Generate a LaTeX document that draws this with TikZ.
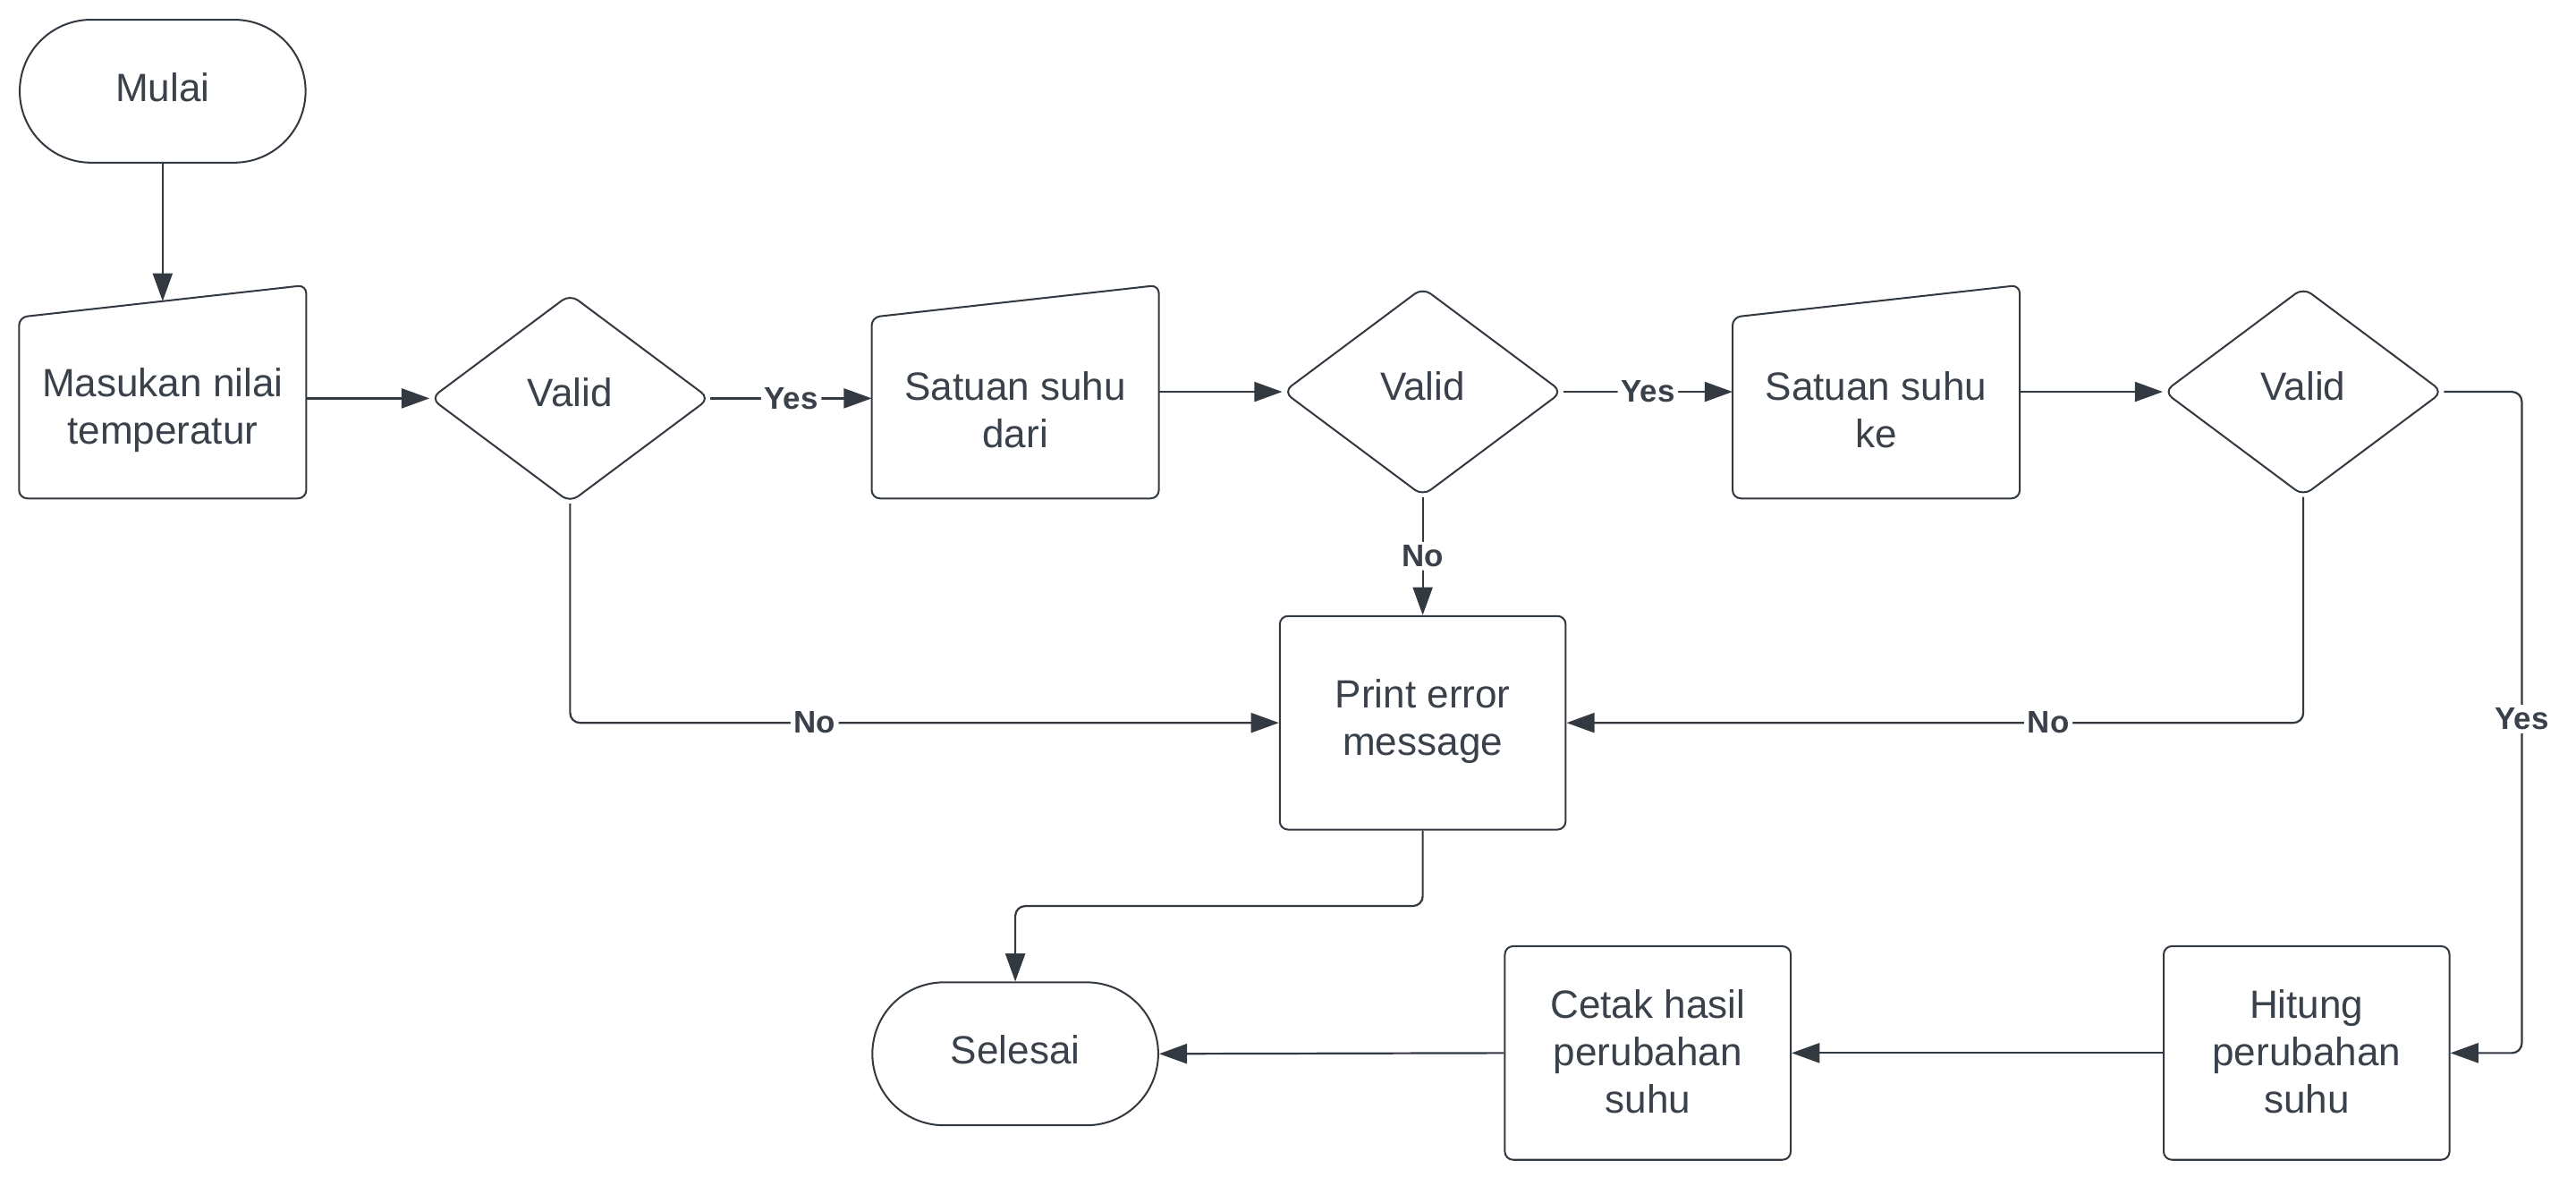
\documentclass[tikz,border=0pt]{standalone}
\usepackage{fontspec}
\setmainfont{Liberation Sans}
\usetikzlibrary{shapes.geometric,arrows.meta,calc}
\definecolor{ink}{RGB}{51,57,65}
\definecolor{txt}{RGB}{58,65,74}
\begin{document}
\begin{tikzpicture}[x=0.5pt,y=-0.5pt,
 every node/.style={font=\fontsize{12pt}{14.5pt}\selectfont, text=txt, align=center},
 term/.style={draw=ink, line width=0.55pt, rectangle, rounded corners=21.75pt, minimum width=87pt, minimum height=43.5pt, inner sep=0pt},
 proc/.style={draw=ink, line width=0.55pt, rectangle, rounded corners=2.5pt, minimum width=87pt, minimum height=65pt, inner sep=0pt},
 decision/.style={draw=ink, line width=0.55pt, diamond, rounded corners=3pt, minimum width=85pt, minimum height=63.5pt, inner sep=0pt},
 inbox/.style={rectangle, minimum width=87pt, minimum height=64.5pt, inner sep=0pt},
 inshape/.style={draw=ink, line width=0.55pt, rounded corners=2.5pt},
 conn/.style={draw=ink, line width=0.6pt, -{Triangle[length=8.5pt,width=6pt]}, rounded corners=3pt},
 lbl/.style={font=\bfseries\fontsize{9.5pt}{11pt}\selectfont, fill=white, inner sep=1pt, text=txt}
]
\useasboundingbox (0,0) rectangle (1568,726.3);

% terminators
\node[term] (start) at (99,55.5) {};
\node (startt) at (99,53) {Mulai};
\node[term] (stop) at (618,641.5) {};
\node (stopt) at (618,639) {Selesai};

% manual inputs
\node[inbox] (in1) at (99,238.5) {};
\draw[inshape] (in1.south west) -- (in1.south east) -- (in1.north east) -- ($(in1.north west)+(0,19.5)$) -- cycle;
\node (in1t) at (99,249.5) {Masukan nilai\\temperatur};
\coordinate (in1top) at ($(in1.north)+(0,9.75)$);

\node[inbox] (in2) at (618,238.5) {};
\draw[inshape] (in2.south west) -- (in2.south east) -- (in2.north east) -- ($(in2.north west)+(0,19.5)$) -- cycle;
\node (in2t) at (618,249.5) {Satuan suhu\\dari};

\node[inbox] (in3) at (1142,238.5) {};
\draw[inshape] (in3.south west) -- (in3.south east) -- (in3.north east) -- ($(in3.north west)+(0,19.5)$) -- cycle;
\node (in3t) at (1142,249.5) {Satuan suhu\\ke};

% decisions
\node[decision] (v1) at (347,242.5) {};
\node (v1t) at (347,239) {Valid};
\node[decision] (v2) at (866,238.5) {};
\node (v2t) at (866,235) {Valid};
\node[decision] (v3) at (1402,238.5) {};
\node (v3t) at (1402,235) {Valid};

% processes
\node[proc] (err) at (866,440) {};
\node (errt) at (866,439) {Print error\\message};
\node[proc] (cet) at (1003,641) {};
\node (cett) at (1003,640) {Cetak hasil\\perubahan\\suhu};
\node[proc] (hit) at (1404,641) {};
\node (hitt) at (1404,640) {Hitung\\perubahan\\suhu};

\coordinate (yc) at (1535,238.5);

% connectors
\draw[conn] (start.south) -- (in1top);
\draw[conn] (v1.west -| in1.east) -- (v1.west);
\draw[conn] (v1.east) -- node[lbl]{Yes} (v1.east -| in2.west);
\draw[conn] (v2.west -| in2.east) -- (v2.west);
\draw[conn] (v2.east) -- node[lbl]{Yes} (v2.east -| in3.west);
\draw[conn] (v3.west -| in3.east) -- (v3.west);
\draw[conn] (v3.east) -- (yc) -- node[lbl,pos=0.495]{Yes} (yc |- hit.east) -- (hit.east);
\draw[conn] (v2.south) -- node[lbl]{No} (err.north);
\draw[conn] (v1.south) -- (v1.south |- err.west) -- node[lbl,pos=0.345]{No} (err.west);
\draw[conn] (v3.south) -- (v3.south |- err.east) -- node[lbl,pos=0.346]{No} (err.east);
\draw[conn] (err.south) -- ($(err.south)+(0,46)$) -| (stop.north);
\draw[conn] (hit.west) -- (cet.east);
\draw[conn] (cet.west) -- (stop.east);
\end{tikzpicture}
\end{document}
